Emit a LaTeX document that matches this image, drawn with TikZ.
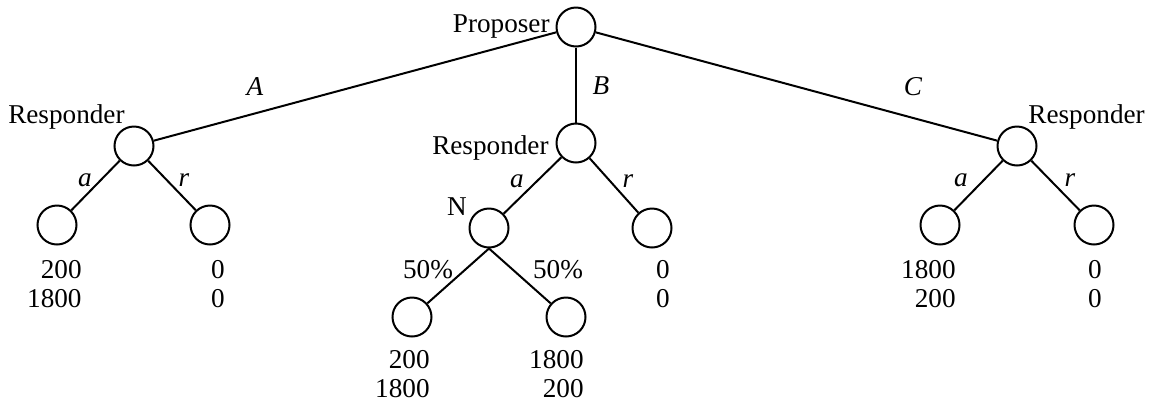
\documentclass[tikz,border=0pt]{standalone}
\usepackage{fontspec}
\setmainfont{Liberation Serif}
\begin{document}
\begin{tikzpicture}[x=0.5pt,y=-0.5pt,
  gnode/.style={circle,draw,line width=1pt,minimum size=19.5pt,inner sep=0pt},
  edge/.style={line width=1pt},
  lbl/.style={font=\fontsize{13.6}{15}\selectfont,inner sep=0pt},
]
\useasboundingbox (0,0) rectangle (1151,403);
% game nodes
\node[gnode] (P) at (576,27) {};
\node[gnode] (RA) at (134,146) {};
\node[gnode] (RB) at (576,143) {};
\node[gnode] (RC) at (1017,146) {};
\node[gnode] (Aa) at (57,225) {};
\node[gnode] (Ar) at (210,225) {};
\node[gnode] (N) at (489,228) {};
\node[gnode] (Br) at (652,228) {};
\node[gnode] (N1) at (412,317) {};
\node[gnode] (N2) at (566,317) {};
\node[gnode] (Ca) at (940,225) {};
\node[gnode] (Cr) at (1094,225) {};
% edges
\draw[edge] (P) -- (RA);
\draw[edge] (P) -- (RB);
\draw[edge] (P) -- (RC);
\draw[edge] (RA) -- (Aa);
\draw[edge] (RA) -- (Ar);
\draw[edge] (RB) -- (N);
\draw[edge] (RB) -- (Br);
\draw[edge] (N.south) -- (N1);
\draw[edge] (N.south) -- (N2);
\draw[edge] (RC) -- (Ca);
\draw[edge] (RC) -- (Cr);
% player labels
\node[lbl,anchor=base east] (lP) at (550,32) {Proposer};
\node[lbl,anchor=base east] (lRA) at (125,123) {Responder};
\node[lbl,anchor=base east] (lRB) at (549,154) {Responder};
\node[lbl,anchor=base west] (lRC) at (1028,123) {Responder};
\node[lbl,anchor=base] (lN) at (457,215) {N};
% action labels
\node[lbl,anchor=base] (eA) at (255,95) {\textit{A}};
\node[lbl,anchor=base] (eB) at (601,94) {\textit{B}};
\node[lbl,anchor=base] (eC) at (913,95) {\textit{C}};
\node[lbl,anchor=base] (ea1) at (85,186) {\textit{a}};
\node[lbl,anchor=base] (er1) at (184,186) {\textit{r}};
\node[lbl,anchor=base] (ea2) at (517,187) {\textit{a}};
\node[lbl,anchor=base] (er2) at (628,187) {\textit{r}};
\node[lbl,anchor=base] (ea3) at (961,186) {\textit{a}};
\node[lbl,anchor=base] (er3) at (1070,186) {\textit{r}};
\node[lbl,anchor=base] (p1) at (428,278) {50\%};
\node[lbl,anchor=base] (p2) at (558,278) {50\%};
% payoffs
\node[lbl,anchor=base east] (pa1) at (82,278) {200};
\node[lbl,anchor=base east] (pa2) at (82,307) {1800};
\node[lbl,anchor=base east] (pr1) at (225,278) {0};
\node[lbl,anchor=base east] (pr2) at (225,307) {0};
\node[lbl,anchor=base east] (pb1) at (670,278) {0};
\node[lbl,anchor=base east] (pb2) at (670,307) {0};
\node[lbl,anchor=base east] (pn1) at (430,368) {200};
\node[lbl,anchor=base east] (pn2) at (430,397) {1800};
\node[lbl,anchor=base east] (pm1) at (584,368) {1800};
\node[lbl,anchor=base east] (pm2) at (584,397) {200};
\node[lbl,anchor=base east] (pc1) at (956,278) {1800};
\node[lbl,anchor=base east] (pc2) at (956,307) {200};
\node[lbl,anchor=base east] (pd1) at (1102,278) {0};
\node[lbl,anchor=base east] (pd2) at (1102,307) {0};
\end{tikzpicture}
\end{document}
